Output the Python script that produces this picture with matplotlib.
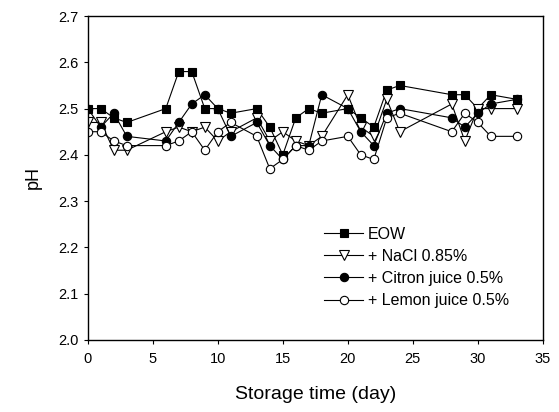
import matplotlib
matplotlib.use("Agg")
import matplotlib.pyplot as plt

plt.rcParams['font.family'] = ['Liberation Sans', 'DejaVu Sans']

days = [0, 1, 2, 3, 6, 7, 8, 9, 10, 11, 13, 14, 15, 16, 17, 18, 20, 21, 22, 23, 24, 28, 29, 30, 31, 33]

eow = [2.50, 2.50, 2.48, 2.47, 2.50, 2.58, 2.58, 2.50, 2.50, 2.49, 2.50, 2.46, 2.40, 2.48, 2.50, 2.49,
       2.50, 2.48, 2.46, 2.54, 2.55, 2.53, 2.53, 2.50, 2.53, 2.52]
nacl = [2.47, 2.47, 2.41, 2.41, 2.45, 2.46, 2.45, 2.46, 2.43, 2.45, 2.48, 2.43, 2.45, 2.43, 2.42, 2.44,
        2.53, 2.46, 2.44, 2.52, 2.45, 2.51, 2.43, 2.50, 2.50, 2.50]
citron = [2.50, 2.46, 2.49, 2.44, 2.43, 2.47, 2.51, 2.53, 2.50, 2.44, 2.47, 2.42, 2.39, 2.42, 2.42, 2.53,
          2.50, 2.45, 2.42, 2.49, 2.50, 2.48, 2.46, 2.49, 2.51, 2.52]
lemon = [2.45, 2.45, 2.43, 2.42, 2.42, 2.43, 2.45, 2.41, 2.45, 2.47, 2.44, 2.37, 2.39, 2.42, 2.41, 2.43,
         2.44, 2.40, 2.39, 2.48, 2.49, 2.45, 2.49, 2.47, 2.44, 2.44]

labels = ["EOW", "+ NaCl 0.85%", "+ Citron juice 0.5%", "+ Lemon juice 0.5%"]
xticks = [0, 5, 10, 15, 20, 25, 30, 35]
yticks = [2.0, 2.1, 2.2, 2.3, 2.4, 2.5, 2.6, 2.7]

fig = plt.figure(figsize=(5.59, 4.12), dpi=100)
ax = fig.add_axes([0.157, 0.175, 0.814, 0.786])

common = dict(color='black', linewidth=0.8, markersize=6, markeredgewidth=0.8)
ax.plot(days, eow, marker='s', markerfacecolor='black', label=labels[0], **common)
ax.plot(days, nacl, marker='v', markerfacecolor='white', markersize=7, label=labels[1],
        color='black', linewidth=0.8, markeredgewidth=0.8)
ax.plot(days, citron, marker='o', markerfacecolor='black', label=labels[2], **common)
ax.plot(days, lemon, marker='o', markerfacecolor='white', label=labels[3], **common)

ax.set_xlim(0, 35)
ax.set_ylim(2.0, 2.7)
ax.set_xticks(xticks)
ax.set_yticks(yticks)
ax.set_yticklabels([f"{v:.1f}" for v in yticks])
ax.tick_params(direction='out', length=3, width=0.8, labelsize=10.5, top=False, right=False)
ax.tick_params(axis='x', pad=6)
for s in ax.spines.values():
    s.set_linewidth(1.0)

ax.set_xlabel("Storage time (day)", fontsize=14, labelpad=14)
ax.set_ylabel("pH", fontsize=13, labelpad=12)

ax.legend(loc='upper left', bbox_to_anchor=(0.52, 0.35), frameon=False, fontsize=11.5,
          handlelength=2.4, handletextpad=0.3, labelspacing=0.45, borderaxespad=0, borderpad=0)

fig.savefig("out.png", dpi=100)
